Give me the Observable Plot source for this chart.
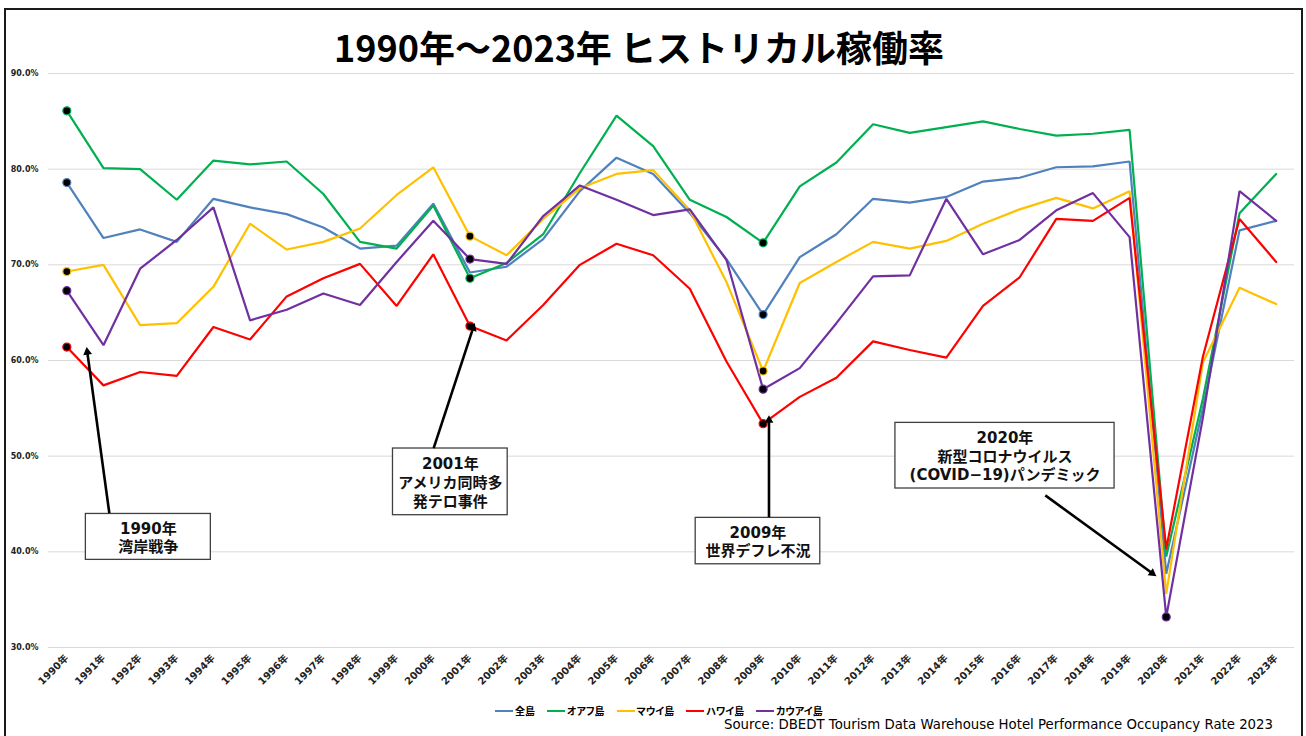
<!DOCTYPE html>
<html><head><meta charset="utf-8">
<script src="https://cdn.jsdelivr.net/npm/d3@7"></script>
<script src="https://cdn.jsdelivr.net/npm/@observablehq/plot@0.6"></script>
<style>
body{margin:0;background:#fff;}
#wrap{position:relative;width:1306px;height:736px;overflow:hidden;font-family:"DejaVu Sans","Noto Sans CJK JP",sans-serif;}
#frame{position:absolute;left:4px;top:8px;width:1295px;height:726px;border:2px solid #1a1a1a;border-bottom:2px solid #aaa;box-sizing:content-box;}
#title{position:absolute;left:0;width:1278px;top:28px;text-align:center;font:700 36px/1 "Noto Sans CJK JP",sans-serif;color:#000;white-space:nowrap;}
#chart{position:absolute;left:0;top:0;}
#legend{position:absolute;top:706px;left:495px;display:flex;align-items:center;font:700 10px/1 "Noto Sans CJK JP",sans-serif;font-feature-settings:"palt";color:#000;white-space:nowrap;}
#legend .it{display:flex;align-items:center;margin-right:12px;}
#legend .sw{display:inline-block;width:18px;height:2px;margin-right:2px;}
#source{position:absolute;right:33px;top:718px;font:13.3px/1 "DejaVu Sans",sans-serif;color:#000;white-space:nowrap;}
</style></head>
<body>
<div id="wrap">
  <div id="chart"></div>
  <div id="frame"></div>
  <div id="title"></div>
  <div id="legend"></div>
  <div id="source"></div>
</div>
<script>
const titleText = "1990年～2023年 ヒストリカル稼働率";
const sourceText = "Source: DBEDT Tourism Data Warehouse Hotel Performance Occupancy Rate 2023";

const years = [1990,1991,1992,1993,1994,1995,1996,1997,1998,1999,2000,2001,2002,2003,2004,2005,2006,2007,2008,2009,2010,2011,2012,2013,2014,2015,2016,2017,2018,2019,2020,2021,2022,2023];
const series = ["全島","オアフ島","マウイ島","ハワイ島","カウアイ島"];
const colors = ["#4f81bd","#00b050","#ffc000","#ff0000","#7030a0"];

const allIslands = [78.6,72.8,73.7,72.4,76.9,76.0,75.3,73.9,71.7,72.0,76.4,69.2,69.8,72.7,77.7,81.2,79.5,75.4,70.6,64.8,70.8,73.2,76.9,76.5,77.1,78.7,79.1,80.2,80.3,80.8,37.7,55.0,73.6,74.6];
const oahu = [86.1,80.1,80.0,76.8,80.9,80.5,80.8,77.4,72.4,71.7,76.2,68.6,70.2,73.2,79.6,85.6,82.4,76.8,75.0,72.3,78.2,80.7,84.7,83.8,84.4,85.0,84.2,83.5,83.7,84.1,39.5,56.0,75.4,79.5];
const maui = [69.3,70.0,63.7,63.9,67.7,74.3,71.6,72.4,73.8,77.3,80.2,73.0,71.0,74.8,78.0,79.5,79.9,75.7,68.2,58.9,68.1,70.3,72.4,71.7,72.5,74.3,75.8,77.0,75.9,77.7,35.6,59.8,67.6,65.9];
const hawaii = [61.4,57.4,58.8,58.4,63.5,62.2,66.7,68.6,70.1,65.7,71.1,63.6,62.1,65.8,70.0,72.2,71.0,67.5,59.9,53.4,56.2,58.2,62.0,61.1,60.3,65.7,68.7,74.8,74.6,77.0,40.3,60.4,74.8,70.3];
const kauai = [67.3,61.6,69.6,72.6,76.0,64.2,65.3,67.0,65.8,70.3,74.6,70.6,70.1,75.1,78.3,76.8,75.2,75.8,70.5,57.0,59.2,63.9,68.8,68.9,76.9,71.1,72.6,75.7,77.5,72.9,33.2,54.0,77.7,74.6];
const seriesValues = [allIslands, oahu, maui, hawaii, kauai];

const yTicks = [30,40,50,60,70,80,90];

// highlighted points (event years)
const highlightYears = [1990,1990,1990,1990,1990,2001,2001,2001,2001,2009,2009,2009,2009,2009,2020];
const highlightSeries = ["全島","オアフ島","マウイ島","ハワイ島","カウアイ島","オアフ島","マウイ島","ハワイ島","カウアイ島","全島","オアフ島","マウイ島","ハワイ島","カウアイ島","カウアイ島"];

// annotations (data space: year, %)
const noteLabels = ["1990年\n湾岸戦争","2001年\nアメリカ同時多\n発テロ事件","2009年\n世界デフレ不況","2020年\n新型コロナウイルス\n(COVID−19)パンデミック"];
const noteBoxX1 = [1990.52, 1998.90, 2007.16, 2012.61];
const noteBoxX2 = [1993.93, 2002.03, 2010.56, 2018.59];
const noteBoxY1 = [39.16, 43.83, 38.70, 46.62];
const noteBoxY2 = [43.96, 50.80, 43.55, 53.48];
const arrowFromX = [1991.16, 2000.01, 2009.16, 2016.70];
const arrowFromY = [44.04, 50.84, 43.62, 45.90];
const arrowToX = [1990.54, 2001.13, 2009.16, 2019.73];
const arrowToY = [61.39, 63.90, 54.28, 37.45];

const data = series.flatMap((s, i) => seriesValues[i].map((v, j) => ({series: s, year: years[j], value: v})));
const highlights = highlightYears.map((y, k) => {
  const s = highlightSeries[k];
  return {series: s, year: y, value: seriesValues[series.indexOf(s)][years.indexOf(y)]};
});
const notes = noteLabels.map((t, i) => ({label: t, x1: noteBoxX1[i], x2: noteBoxX2[i], y1: noteBoxY1[i], y2: noteBoxY2[i]}));
const arrows = arrowFromX.map((x, i) => ({x1: x, y1: arrowFromY[i], x2: arrowToX[i], y2: arrowToY[i]}));

const baseOptions = {
  width: 1306, height: 736,
  marginLeft: 48, marginRight: 12, marginTop: 73, marginBottom: 89,
  style: {fontFamily: '"DejaVu Sans","Noto Sans CJK JP",sans-serif', background: "transparent", overflow: "visible"},
  x: {type: "linear", domain: [1989.5, 2023.5], axis: null},
  y: {domain: [30, 90], axis: null},
  color: {domain: series, range: colors}
};

// probe the scales to orient the arrow heads in screen space
const probe = Plot.plot({...baseOptions, marks: [Plot.frame({stroke: "none"})]});
const sx = probe.scale("x"), sy = probe.scale("y");
const headBack = 5;
const heads = arrows.map(a => {
  const X1 = sx.apply(a.x1), Y1 = sy.apply(a.y1), X2 = sx.apply(a.x2), Y2 = sy.apply(a.y2);
  const L = Math.hypot(X2 - X1, Y2 - Y1), ux = (X2 - X1) / L, uy = (Y2 - Y1) / L;
  return {x: sx.invert(X2 - ux * headBack), y: sy.invert(Y2 - uy * headBack), angle: Math.atan2(ux, -uy) * 180 / Math.PI, x1: a.x1, y1: a.y1};
});

const chart = Plot.plot({
  ...baseOptions,
  marks: [
    Plot.gridY(yTicks, {stroke: "#d9d9d9", strokeOpacity: 1, strokeWidth: 1}),
    Plot.axisY(yTicks, {tickSize: 0, tickPadding: 10, tickFormat: d => d.toFixed(1) + "%", fontSize: 8, fontWeight: "bold", fill: "#222"}),
    Plot.axisX(years, {tickSize: 0, tickPadding: 9, tickRotate: -45, tickFormat: d => d + "年", fontSize: 10, fontWeight: "bold", fill: "#222"}),
    Plot.line(data, {x: "year", y: "value", stroke: "series", z: "series", strokeWidth: 2.2, strokeLinejoin: "miter"}),
    Plot.dot(highlights, {x: "year", y: "value", r: 4, fill: "black", stroke: "series", strokeWidth: 1.2}),
    Plot.rect(notes, {x1: "x1", x2: "x2", y1: "y1", y2: "y2", fill: "white", stroke: "#404040", strokeWidth: 1.3}),
    Plot.text(notes, {x: d => (d.x1 + d.x2) / 2, y: d => (d.y1 + d.y2) / 2, text: "label", fontSize: 15, fontWeight: "bold", lineHeight: 1.25, fill: "#111", fontFamily: '"DejaVu Sans","Noto Sans CJK JP",sans-serif'}),
    Plot.link(heads, {x1: "x1", y1: "y1", x2: "x", y2: "y", stroke: "#000", strokeWidth: 2.6}),
    Plot.dot(heads, {x: "x", y: "y", symbol: "triangle2", r: 4.2, fill: "#000", stroke: "none", rotate: "angle"})
  ]
});
document.getElementById("chart").appendChild(chart);

document.getElementById("title").textContent = titleText;
document.getElementById("source").textContent = sourceText;
const lg = document.getElementById("legend");
series.forEach((s, i) => {
  const it = document.createElement("span"); it.className = "it";
  const sw = document.createElement("span"); sw.className = "sw"; sw.style.background = colors[i];
  const tx = document.createElement("span"); tx.textContent = s;
  it.appendChild(sw); it.appendChild(tx); lg.appendChild(it);
});
</script>
</body></html>
